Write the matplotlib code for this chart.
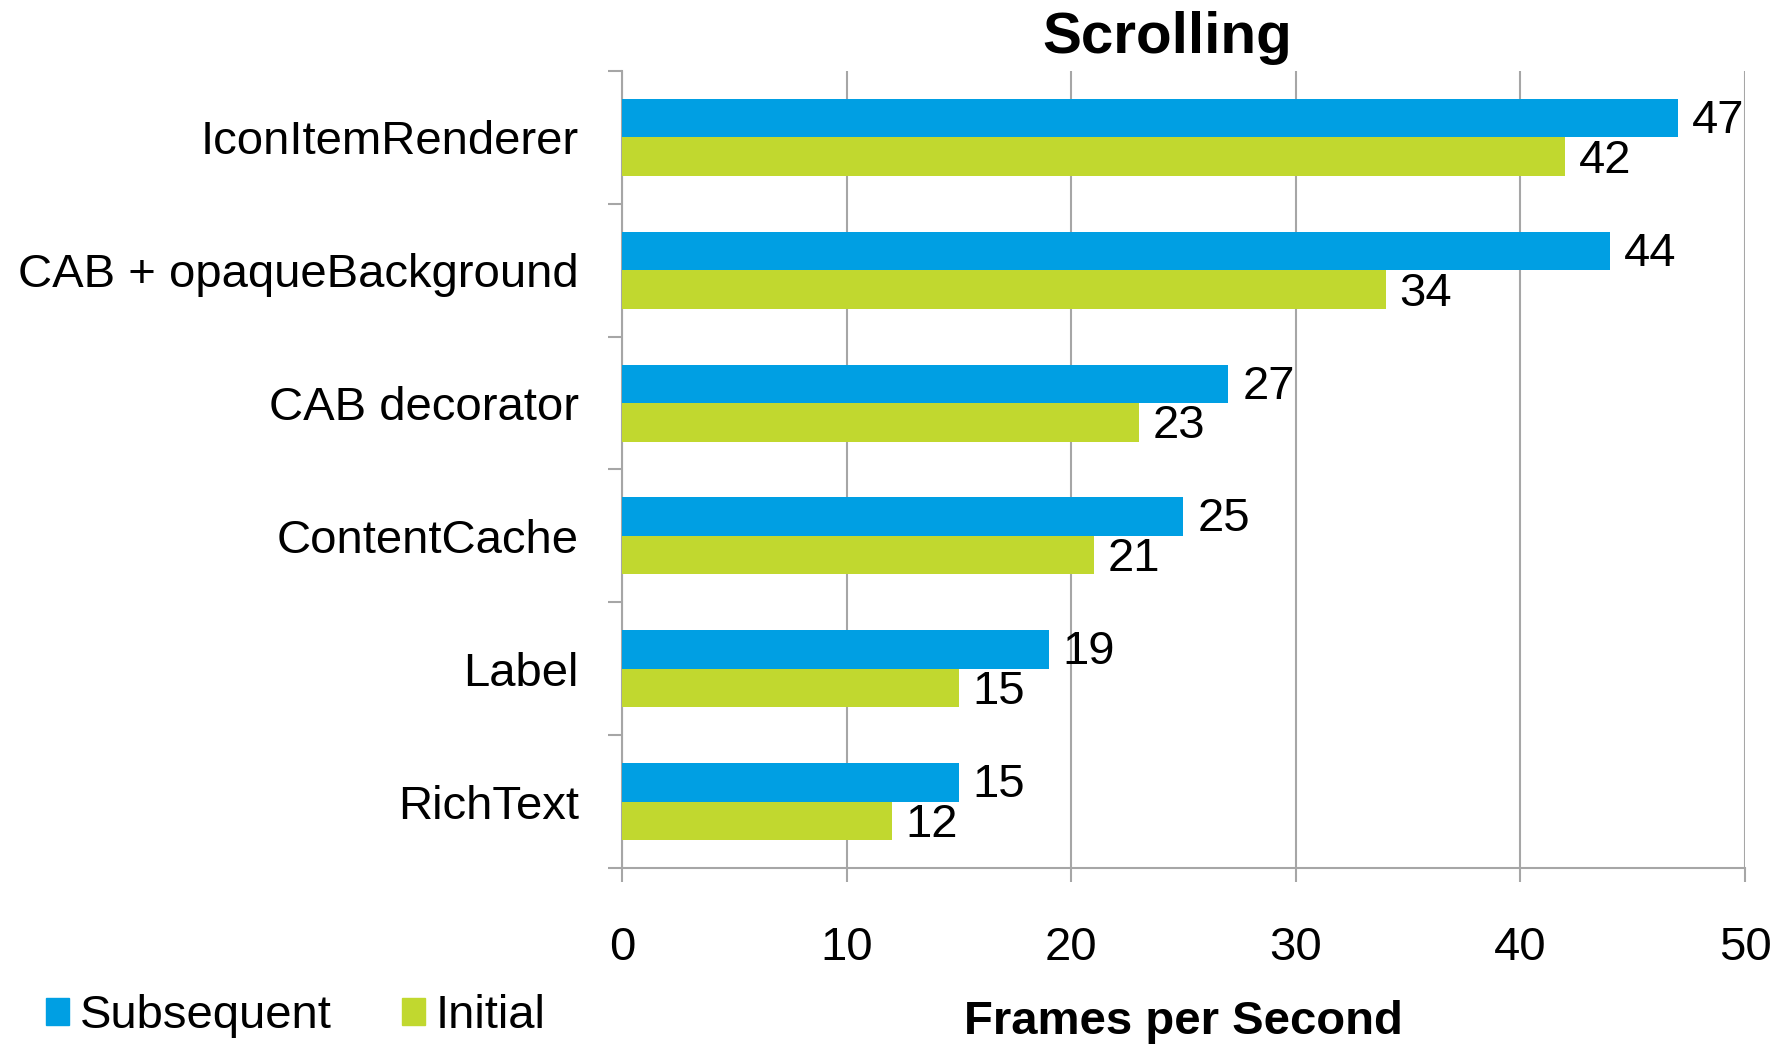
import numpy as np
import matplotlib.pyplot as plt
from matplotlib.patches import Patch

# данные
categories = ["IconItemRenderer", "CAB + opaqueBackground", "CAB decorator",
              "ContentCache", "Label", "RichText"]
subsequent = [47, 44, 27, 25, 19, 15]
initial = [42, 34, 23, 21, 15, 12]

blue = "#009FE3"
green = "#C1D82F"
grey = "#A6A6A6"

plt.rcParams['font.family'] = ['Liberation Sans', 'DejaVu Sans']

fig = plt.figure(figsize=(17.91, 10.44), dpi=100)
ax = fig.add_axes([0.3473, 0.1686, 0.627, 0.7634])

y = np.arange(len(categories))
h = 0.29
ax.barh(y - h / 2, subsequent, height=h, color=blue, zorder=3)
ax.barh(y + h / 2, initial, height=h, color=green, zorder=3)

for i in range(len(categories)):
    ax.annotate(str(subsequent[i]), (subsequent[i], y[i] - h / 2), xytext=(10, -2),
                textcoords='offset points', va='center', ha='left', fontsize=34)
    ax.annotate(str(initial[i]), (initial[i], y[i] + h / 2), xytext=(10, -3),
                textcoords='offset points', va='center', ha='left', fontsize=34)

ax.set_xlim(0, 50)
ax.set_ylim(len(categories) - 0.5, -0.5)
ax.set_xticks(np.arange(0, 51, 10))
ax.set_yticks(y)
ax.set_yticklabels(categories)
ax.set_yticks(np.arange(-0.5, len(categories), 1), minor=True)

ax.tick_params(axis='x', length=10, width=1.5, color=grey, labelsize=34, pad=31.5)
ax.tick_params(axis='y', which='major', length=0, labelsize=34, pad=31, labelcolor='black')
ax.tick_params(axis='y', which='minor', length=10, width=1.5, color=grey)

ax.grid(axis='x', color=grey, linewidth=1.5, zorder=0)
for s in ['top', 'right']:
    ax.spines[s].set_visible(False)
for s in ['left', 'bottom']:
    ax.spines[s].set_color(grey)
    ax.spines[s].set_linewidth(1.5)

ax.set_xlabel("Frames per Second", fontsize=34, fontweight='bold', labelpad=22)
fig.text(0.6515, 0.964, "Scrolling", fontsize=42, fontweight='bold', ha='center', va='center')

handles = [Patch(color=blue, label="Subsequent"), Patch(color=green, label="Initial")]
fig.legend(handles=handles, loc='center left', bbox_to_anchor=(0.015, 0.027), ncol=2,
           frameon=False, fontsize=34, handlelength=0.5, handleheight=0.5,
           handletextpad=0.23, columnspacing=1.47, borderaxespad=0)

fig.savefig("out.png", dpi=100)
